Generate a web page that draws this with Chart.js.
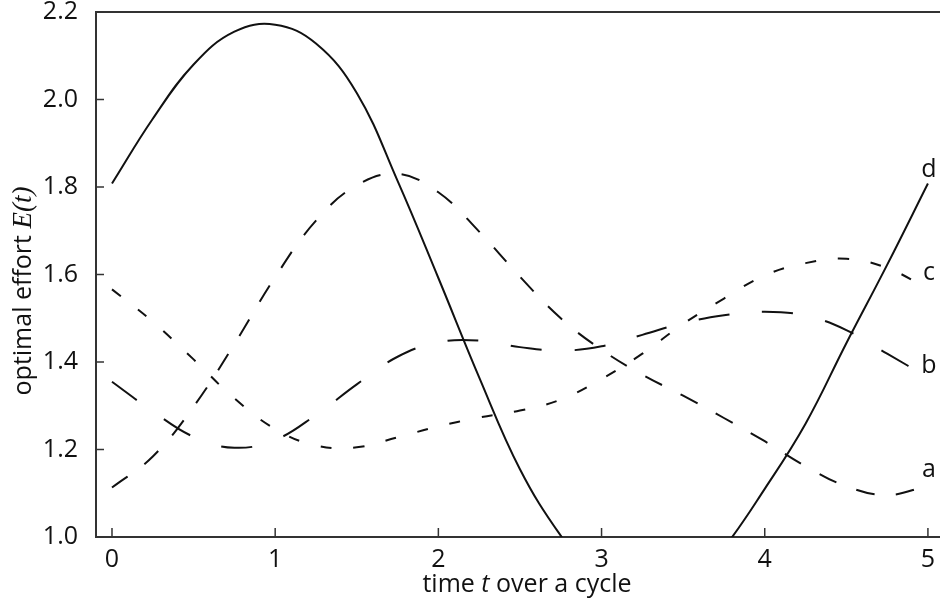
<!DOCTYPE html>
<html><head><meta charset="utf-8">
<script src="https://cdn.jsdelivr.net/npm/chart.js@4.4.1/dist/chart.umd.min.js"></script>
<style>html,body{margin:0;padding:0;background:#fff;}#wrap{width:940px;height:603px;}</style>
</head><body><div id="wrap"><canvas id="c" width="940" height="603"></canvas></div>
<script>
// time over a cycle
const tValues = [0,0.25,0.5,0.75,1,1.25,1.5,1.75,2,2.25,2.5,2.75,3,3.25,3.5,3.75,4,4.25,4.5,4.75,5];
// optimal effort E(t) for each scenario
const seriesA = [1.113,1.184,1.298,1.441,1.594,1.723,1.804,1.830,1.788,1.698,1.595,1.500,1.428,1.371,1.323,1.272,1.219,1.162,1.116,1.096,1.117];
const seriesB = [1.355,1.287,1.229,1.204,1.222,1.279,1.349,1.412,1.445,1.449,1.434,1.426,1.436,1.462,1.489,1.507,1.515,1.506,1.473,1.419,1.365];
const seriesC = [1.566,1.492,1.406,1.317,1.247,1.209,1.205,1.228,1.253,1.273,1.289,1.314,1.361,1.419,1.487,1.545,1.598,1.626,1.636,1.615,1.567];
const seriesD = [1.808,1.956,2.080,2.155,2.171,2.128,2.015,1.814,1.592,1.365,1.155,1.003,0.890,0.840,0.870,0.975,1.110,1.259,1.443,1.622,1.808];
const seriesNames = ['a','b','c','d'];
const xTickValues = [0,1,2,3,4,5];
const yTickValues = [1.0,1.2,1.4,1.6,1.8,2.0,2.2];

const allSeries = [seriesA, seriesB, seriesC, seriesD];
const dashes = [[19,21],[31,33],[11,22],[]];
const labelBaseline = {a:1.137, b:1.375, c:1.587, d:1.823};

function drawRich(ctx, parts, cx, cy){
  let total = 0;
  parts.forEach(p=>{ctx.font=p.font; p.w = ctx.measureText(p.text).width; total += p.w;});
  let x = cx - total/2;
  ctx.textAlign='left'; ctx.textBaseline='middle';
  parts.forEach(p=>{ctx.font=p.font; ctx.fillText(p.text, x, cy); x += p.w;});
}

const decor = {
  id:'decor',
  afterDraw(chart){
    const {ctx, chartArea:ca, scales:{x, y}} = chart;
    ctx.save();
    ctx.strokeStyle='#333'; ctx.lineWidth=2;
    ctx.beginPath(); ctx.moveTo(ca.left-1, ca.top); ctx.lineTo(ca.right, ca.top); ctx.stroke();
    ctx.lineWidth=1.5;
    x.ticks.forEach(t=>{const px=x.getPixelForValue(t.value); ctx.beginPath(); ctx.moveTo(px,ca.bottom); ctx.lineTo(px,ca.bottom-9); ctx.stroke();});
    y.ticks.forEach(t=>{const py=y.getPixelForValue(t.value); ctx.beginPath(); ctx.moveTo(ca.left,py); ctx.lineTo(ca.left+8,py); ctx.stroke();});
    ctx.fillStyle='#111';
    ctx.font='25px "Open Sans"'; ctx.textAlign='center'; ctx.textBaseline='alphabetic';
    seriesNames.forEach(n=>{
      ctx.fillText(n, x.getPixelForValue(5) + 1, y.getPixelForValue(labelBaseline[n]));
    });
    // x title
    drawRich(ctx, [
      {text:'time ', font:'25px "Open Sans"'},
      {text:'t', font:'italic 25px "Open Sans"'},
      {text:' over a cycle', font:'25px "Open Sans"'}
    ], (ca.left+ca.right)/2 + 9, 585);
    // y title
    ctx.save();
    ctx.translate(24, 291);
    ctx.rotate(-Math.PI/2);
    drawRich(ctx, [
      {text:'optimal effort ', font:'25px "Open Sans"'},
      {text:'E(t)', font:'italic 27px "Liberation Serif"'}
    ], 0, 0);
    ctx.restore();
    ctx.restore();
  }
};

new Chart(document.getElementById('c'), {
  type:'line',
  data:{
    datasets: allSeries.map((s,i)=>({
      label: seriesNames[i],
      data: tValues.map((t,j)=>({x:t, y:s[j]})),
      borderColor:'#111', borderWidth:2, borderDash:dashes[i],
      pointRadius:0, fill:false, tension:0.4, clip:0
    }))
  },
  options:{
    responsive:false, animation:false, devicePixelRatio:1,
    layout:{padding:{top:12,right:0,left:0,bottom:0}},
    plugins:{legend:{display:false}, tooltip:{enabled:false}},
    scales:{
      x:{type:'linear', min:-0.098, max:5.074,
        afterBuildTicks:s=>{s.ticks = xTickValues.map(v=>({value:v}));},
        afterFit:s=>{s.height=66; s.paddingLeft=0; s.paddingRight=0;},
        grid:{display:false, drawTicks:false},
        border:{display:true, color:'#333', width:2},
        ticks:{padding:8, color:'#111', font:{family:'Open Sans', size:25}, maxRotation:0, autoSkip:false, callback:v=>String(v)}
      },
      y:{type:'linear', min:1.0, max:2.2,
        afterBuildTicks:s=>{s.ticks = yTickValues.map(v=>({value:v}));},
        afterFit:s=>{s.width=96; s.paddingTop=0; s.paddingBottom=0;},
        grid:{display:false, drawTicks:false},
        border:{display:true, color:'#333', width:2},
        ticks:{padding:18, color:'#111', font:{family:'Open Sans', size:25}, autoSkip:false, callback:v=>Number(v).toFixed(1)}
      }
    }
  },
  plugins:[decor]
});
</script></body></html>
